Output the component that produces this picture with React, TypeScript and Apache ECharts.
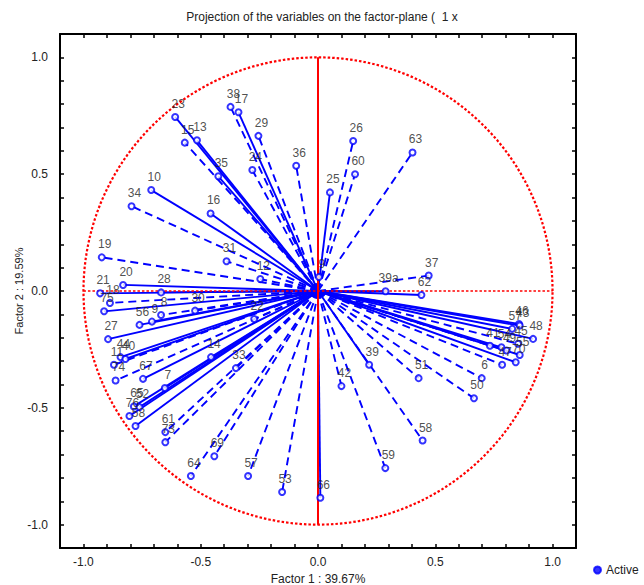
import React, { useEffect, useRef } from "react";
import * as echarts from "echarts";

// Variable names, coordinates on Factor 1 / Factor 2
const varNames = [
  "23", "38", "17", "29", "15", "13", "35", "24", "36", "10",
  "34", "16", "19", "31", "12", "20", "21", "18", "75", "28",
  "8", "9", "56", "30", "27", "44", "40", "11", "74", "67",
  "7", "65", "52", "76", "58", "61", "73", "69", "64", "57",
  "53", "66", "14", "33", "22", "26", "63", "60", "25", "37",
  "39a", "62", "48", "46", "43", "57", "41", "54", "45", "49",
  "55", "47", "70", "6", "50", "51", "39", "42", "58", "59", "9"
];
const factor1 = [
  -0.609, -0.373, -0.339, -0.254, -0.568, -0.516, -0.425, -0.280, -0.093, -0.711,
  -0.795, -0.458, -0.922, -0.390, -0.246, -0.831, -0.929, -0.887, -0.912, -0.669,
  -0.669, -0.708, -0.761, -0.524, -0.895, -0.842, -0.821, -0.870, -0.863, -0.746,
  -0.653, -0.785, -0.761, -0.804, -0.778, -0.651, -0.651, -0.442, -0.542, -0.298,
  -0.153, 0.010, -0.456, -0.350, -0.272, 0.150, 0.403, 0.158, 0.051, 0.472,
  0.288, 0.441, 0.917, 0.857, 0.860, 0.828, 0.733, 0.782, 0.853, 0.804,
  0.860, 0.785, 0.843, 0.698, 0.665, 0.429, 0.218, 0.100, 0.446, 0.287, 0.004
];
const factor2 = [
  0.745, 0.788, 0.765, 0.664, 0.635, 0.645, 0.491, 0.518, 0.536, 0.432,
  0.363, 0.332, 0.144, 0.127, 0.051, 0.026, -0.010, -0.051, -0.087, -0.006,
  -0.103, -0.131, -0.145, -0.084, -0.206, -0.283, -0.291, -0.316, -0.383, -0.376,
  -0.415, -0.494, -0.497, -0.535, -0.578, -0.604, -0.647, -0.707, -0.792, -0.792,
  -0.860, -0.885, -0.283, -0.330, -0.120, 0.642, 0.593, 0.500, 0.422, 0.066,
  -0.001, -0.017, -0.205, -0.141, -0.148, -0.162, -0.234, -0.241, -0.226, -0.255,
  -0.274, -0.316, -0.305, -0.373, -0.459, -0.373, -0.316, -0.407, -0.640, -0.758, 0.060
];
// which variables are drawn with a dashed vector (by index)
const dashedGroup = [
  0, 1, 0, 1, 1, 0, 0, 1, 1, 0,
  1, 0, 1, 1, 1, 0, 0, 1, 0, 0,
  1, 0, 0, 1, 0, 0, 0, 1, 1, 0,
  0, 0, 0, 0, 0, 1, 1, 1, 1, 1,
  1, 0, 0, 1, 1, 1, 1, 1, 0, 1,
  0, 0, 0, 0, 0, 0, 1, 0, 1, 1,
  0, 1, 0, 1, 1, 1, 0, 1, 1, 1, 1
];

const titleText = "Projection of the variables on the factor-plane (  1 x";
const xName = "Factor 1 : 39.67%";
const yName = "Factor 2 : 19.59%";

const FONT = "'Liberation Sans', Arial, sans-serif";

function tickLabel(v: number): string {
  const r = Math.round(v * 10);
  if (r % 5 === 0 && Math.abs(r) <= 10) return (r / 10).toFixed(1);
  return "";
}

export default function App() {
  const ref = useRef<HTMLDivElement>(null);
  useEffect(() => {
    if (!ref.current) return;
    const chart = echarts.init(ref.current, null, { renderer: "svg" });

    const vectorSeries: any[] = varNames.map((n, i) => ({
      type: "line",
      name: "v" + i,
      data: [
        [0, 0],
        [factor1[i], factor2[i]],
      ],
      showSymbol: false,
      symbol: "none",
      silent: true,
      z: 2,
      lineStyle: {
        color: "#0000ff",
        width: 1.9,
        type: dashedGroup[i] ? [8, 5] : "solid",
      },
    }));

    const circle: number[][] = [];
    for (let a = 0; a <= 360; a += 2) {
      const t = (a * Math.PI) / 180;
      circle.push([Math.cos(t), Math.sin(t)]);
    }

    const axisCommon = {
      type: "value" as const,
      min: -1.1,
      max: 1.1,
      interval: 0.1,
      splitLine: { show: false },
      axisLine: { show: true, onZero: false, lineStyle: { color: "#000", width: 2 } },
      axisTick: { show: true, inside: true, length: 4, lineStyle: { color: "#000", width: 1.5 } },
    };

    chart.setOption({
      animation: false,
      backgroundColor: "#fff",
      title: {
        text: titleText,
        left: 317,
        textAlign: "center",
        top: 6,
        padding: 5,
        textStyle: { fontFamily: FONT, fontSize: 12, fontWeight: "normal", color: "#222" },
      },
      legend: {
        data: ["Active"],
        left: 593,
        top: 564,
        padding: 0,
        icon: "circle",
        itemWidth: 7,
        itemHeight: 7,
        itemGap: 4,
        textStyle: { fontFamily: FONT, fontSize: 12, color: "#222" },
      },
      grid: { left: 60, right: 68, top: 34, bottom: 37, outerBoundsMode: "none", containLabel: false },
      xAxis: [
        {
          ...axisCommon,
          position: "bottom",
          name: xName,
          nameLocation: "middle",
          nameGap: 25,
          nameMoveOverlap: false,
          nameTextStyle: { fontFamily: FONT, fontSize: 12, color: "#222" },
          axisLabel: { formatter: tickLabel, fontFamily: FONT, fontSize: 12, color: "#222", margin: 8 },
        },
        {
          ...axisCommon,
          position: "top",
          axisLabel: { show: false },
        },
      ],
      yAxis: [
        {
          ...axisCommon,
          position: "left",
          name: yName,
          nameLocation: "middle",
          nameGap: 36,
          nameMoveOverlap: false,
          nameTextStyle: { fontFamily: FONT, fontSize: 11, color: "#222" },
          axisLabel: { formatter: tickLabel, fontFamily: FONT, fontSize: 12, color: "#222", margin: 12 },
        },
        {
          ...axisCommon,
          position: "right",
          axisLabel: { show: false },
        },
      ],
      series: [
        ...vectorSeries,
        {
          type: "line",
          name: "circle",
          data: circle,
          showSymbol: false,
          symbol: "none",
          silent: true,
          z: 3,
          lineStyle: { color: "#ff0000", width: 2.2, type: [2.5, 2] },
        },
        {
          type: "line",
          name: "hline",
          data: [
            [-1, 0],
            [1, 0],
          ],
          showSymbol: false,
          symbol: "none",
          silent: true,
          z: 3,
          lineStyle: { color: "#ff0000", width: 1.6, type: [2.5, 2] },
        },
        {
          type: "line",
          name: "vline",
          data: [
            [0, -1],
            [0, 1],
          ],
          showSymbol: false,
          symbol: "none",
          silent: true,
          z: 3,
          lineStyle: { color: "#ff0000", width: 2, type: "solid" },
        },
        {
          type: "scatter",
          name: "Active",
          data: varNames.map((n, i) => ({ value: [factor1[i], factor2[i]], name: n })),
          symbol: "emptyCircle",
          symbolSize: 6,
          z: 5,
          itemStyle: { color: "#0000ff", borderColor: "#0000ff", borderWidth: 2.5 },
          label: {
            show: true,
            position: "top",
            distance: 3,
            offset: [3, 0],
            formatter: (p: any) => p.name,
            fontFamily: FONT,
            fontSize: 12,
            color: "#222",
          },
        },
      ],
    });

    return () => chart.dispose();
  }, []);

  return (
    <div
      ref={ref}
      style={{ position: "absolute", left: 0, top: 0, width: 644, height: 585 }}
    />
  );
}
